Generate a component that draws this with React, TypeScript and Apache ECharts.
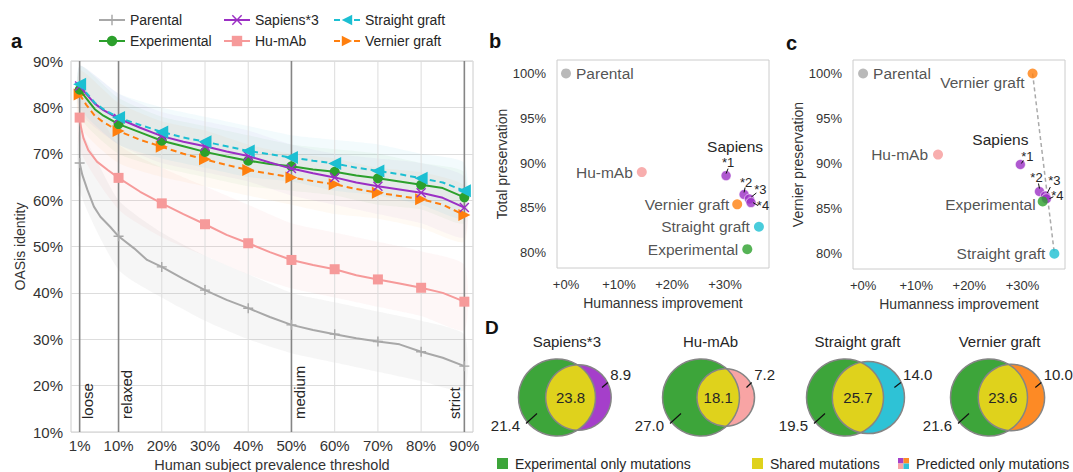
import React, { useEffect, useRef } from "react";
import * as echarts from "echarts";

const FONT = "'Liberation Sans', Arial, Helvetica, sans-serif";
const TEXT = "#262626";

// ---------------- Panel a data ----------------
const thresholds = [1, 10, 20, 30, 40, 50, 60, 70, 80, 90];
const majorThresholds = [1, 10, 50, 90];
const thresholdNames = ["loose", "relaxed", "medium", "strict"];

const parentalX = [1, 1.6, 2.8, 4.3, 5.8, 8.1, 10, 13.6, 16.6, 20, 25, 30, 35, 40, 45, 50, 55, 60, 65, 70, 75, 80, 85, 90];
const parentalY = [68.0, 65.5, 62.2, 58.6, 56.4, 54.2, 52.2, 49.6, 47.1, 45.6, 43.0, 40.6, 38.5, 36.7, 34.8, 33.1, 32.0, 31.1, 30.2, 29.5, 28.9, 27.3, 26.0, 24.2];
const humabX = [1, 1.3, 1.9, 3, 5, 7.5, 10, 15, 20, 25, 30, 35, 40, 45, 50, 55, 60, 65, 70, 75, 80, 85, 90];
const humabY = [77.8, 75.8, 73.3, 70.8, 68.3, 66.5, 64.8, 61.8, 59.3, 57.0, 54.8, 52.5, 50.7, 48.8, 47.1, 46.0, 45.1, 43.8, 42.9, 42.0, 41.1, 40.0, 38.1];
const clusterX = [1, 2.5, 4.5, 6.5, 10, 15, 20, 25, 30, 35, 40, 45, 50, 55, 60, 65, 70, 75, 80, 85, 90];
const straightY = [85.0, 83.2, 81.0, 79.6, 77.8, 76.2, 74.7, 73.5, 72.6, 71.6, 70.6, 69.9, 69.2, 68.5, 67.9, 67.0, 66.3, 65.6, 64.7, 63.8, 62.0];
const sapiensY = [84.6, 82.9, 80.8, 79.4, 77.6, 75.6, 73.8, 72.6, 71.6, 70.5, 69.5, 68.1, 66.8, 65.8, 64.9, 63.8, 63.0, 62.3, 61.6, 60.5, 58.4];
const experimentalY = [83.8, 82.0, 79.6, 78.2, 76.4, 74.6, 72.8, 71.6, 70.4, 69.4, 68.5, 67.8, 67.3, 66.6, 66.1, 65.3, 64.7, 64.0, 63.3, 62.6, 60.6];
const vernierY = [82.8, 80.6, 78.2, 76.8, 74.9, 73.0, 71.5, 70.0, 68.8, 67.6, 66.5, 65.7, 64.9, 64.1, 63.4, 62.4, 61.6, 60.9, 60.2, 59.0, 56.8];

// spread bands, read at the thresholds
const parentalLo = [62, 45, 39, 34, 30, 27, 25, 23, 21, 19];
const parentalHi = [75, 60, 53, 48, 44, 40, 38, 36, 34, 31];
const humabLo = [71, 58, 52, 48, 44, 41, 39, 37, 35, 32];
const humabHi = [85, 72, 67, 63, 59, 55, 53, 51, 49, 46];
const straightLo = [80, 72, 69, 67, 65, 64, 62, 61, 59, 56];
const straightHi = [89, 83, 80, 78, 76, 74, 73, 72, 70, 68];
const sapiensLo = [79, 72, 68, 66, 64, 61, 59, 57, 55, 52];
const sapiensHi = [89, 83, 79, 77, 75, 72, 70, 69, 68, 65];
const experimentalLo = [78, 70, 67, 65, 63, 62, 61, 59, 58, 55];
const experimentalHi = [89, 82, 78, 76, 74, 72, 71, 70, 68, 66];
const vernierLo = [76, 68, 65, 63, 61, 59, 57, 56, 54, 51];
const vernierHi = [88, 81, 77, 75, 72, 70, 69, 67, 66, 63];

// ---------------- Panels b & c data ----------------
const scatterNames = ["Parental", "Hu-mAb", "*1", "*2", "*3", "*4", "Vernier graft", "Straight graft", "Experimental"];
const humannessB = [0, 14.3, 30.2, 33.6, 34.6, 34.9, 32.3, 36.4, 34.2];
const totalPreservation = [100, 89.0, 88.6, 86.5, 86.0, 85.6, 85.4, 82.9, 80.4];
const humannessC = [0, 14.1, 29.6, 33.2, 34.3, 34.5, 31.9, 36.0, 33.8];
const vernierPreservation = [100, 91.0, 89.9, 86.9, 86.4, 86.1, 100, 80.0, 85.8];
const humannessTicks = [0, 10, 20, 30];
const preservationTicks = [80, 85, 90, 95, 100];

// ---------------- Panel D data ----------------
const vennTitles = ["Sapiens*3", "Hu-mAb", "Straight graft", "Vernier graft"];
const experimentalOnly = [21.4, 27.0, 19.5, 21.6];
const sharedMutations = [23.8, 18.1, 25.7, 23.6];
const predictedOnly = [8.9, 7.2, 14.0, 10.0];
const vennLegend = ["Experimental only mutations", "Shared mutations", "Predicted only mutations"];

// ---------------- styles ----------------
const C = {
  parental: "#a8a8a8",
  experimental: "#2ca02c",
  sapiens: "#9b2fc4",
  humab: "#f69a9a",
  straight: "#1cbfd2",
  vernier: "#ff7f0e",
};
const PLUS = "path://M4.3,0H5.7V4.3H10V5.7H5.7V10H4.3V5.7H0V4.3H4.3Z";
const CROSS = "path://M1,0L5,4L9,0L10,1L6,5L10,9L9,10L5,6L1,10L0,9L4,5L0,1Z";
const TRI_LEFT = "path://M0,5L10,0L10,10Z";
const TRI_RIGHT = "path://M10,5L0,0L0,10Z";

const lineDefs = [
  { name: "Parental", xs: parentalX, ys: parentalY, lo: parentalLo, hi: parentalHi, color: C.parental, band: "rgba(160,160,160,0.09)", symbol: PLUS, size: 10, dashed: false, z: 3 },
  { name: "Hu-mAb", xs: humabX, ys: humabY, lo: humabLo, hi: humabHi, color: C.humab, band: "rgba(246,140,140,0.07)", symbol: "rect", size: 10, dashed: false, z: 3 },
  { name: "Vernier graft", xs: clusterX, ys: vernierY, lo: vernierLo, hi: vernierHi, color: C.vernier, band: "rgba(255,150,40,0.05)", symbol: TRI_RIGHT, size: 12, dashed: true, z: 4 },
  { name: "Experimental", xs: clusterX, ys: experimentalY, lo: experimentalLo, hi: experimentalHi, color: C.experimental, band: "rgba(44,160,44,0.045)", symbol: "circle", size: 10, dashed: false, z: 5 },
  { name: "Sapiens*3", xs: clusterX, ys: sapiensY, lo: sapiensLo, hi: sapiensHi, color: C.sapiens, band: "rgba(150,60,200,0.045)", symbol: CROSS, size: 10, dashed: false, z: 6 },
  { name: "Straight graft", xs: clusterX, ys: straightY, lo: straightLo, hi: straightHi, color: C.straight, band: "rgba(28,191,210,0.055)", symbol: TRI_LEFT, size: 13, dashed: true, z: 7 },
];

const legendLayout = [
  { name: "Parental", left: 98, top: 13 },
  { name: "Sapiens*3", left: 223, top: 13 },
  { name: "Straight graft", left: 333, top: 13 },
  { name: "Experimental", left: 98, top: 34 },
  { name: "Hu-mAb", left: 223, top: 34 },
  { name: "Vernier graft", left: 333, top: 34 },
];

const pointColor = (n: string) =>
  n === "Parental" ? C.parental : n === "Hu-mAb" ? C.humab : n === "Vernier graft" ? C.vernier :
  n === "Straight graft" ? C.straight : n === "Experimental" ? C.experimental : C.sapiens;

const labelB: any = {
  "Parental": { position: "right", distance: 5 },
  "Hu-mAb": { position: "left", distance: 4 },
  "Vernier graft": { position: "left", distance: 3 },
  "Straight graft": { position: "left", distance: 4 },
  "Experimental": { position: "left", distance: 4 },
};
const labelC: any = {
  "Parental": { position: "right", distance: 5 },
  "Hu-mAb": { position: "left", distance: 5 },
  "Vernier graft": { position: "left", distance: 3, offset: [0, 9] },
  "Straight graft": { position: "left", distance: 4 },
  "Experimental": { position: "left", distance: 2, offset: [0, 3] },
};
// star label offsets relative to point: [textDx, textDy, lineX1, lineY1, lineX2, lineY2]
const starB: any = {
  "*1": [2, -13, 2, -7, 0, -2],
  "*2": [2, -12, 1, -7, 0, -2],
  "*3": [11, -9, 2, -2, 7, -6],
  "*4": [12, 3, 2, 0, 7, 3],
};
const starC: any = {
  "*1": [7, -8, 3, -4, 1, -1],
  "*2": [-3, -14, -1, -8, 0, -3],
  "*3": [9, -16, 2, -3, 5, -9],
  "*4": [11, -3, 3, 0, 7, -2],
};

const scatterSeries = (idx: number, xs: number[], ys: number[], labels: any) => ({
  type: "scatter",
  xAxisIndex: idx,
  yAxisIndex: idx,
  symbolSize: 10,
  z: 5,
  data: scatterNames.map((n, i) => ({
    name: n,
    value: [xs[i], ys[i]],
    itemStyle: n.startsWith("*")
      ? { color: C.sapiens, borderColor: "#fff", borderWidth: 0.7 }
      : { color: pointColor(n) },
    label: labels[n]
      ? { show: true, formatter: n, fontSize: 15.5, color: TEXT, fontFamily: FONT, ...labels[n] }
      : { show: false },
  })),
});

const axisLabelStyle = { color: "#333", fontFamily: FONT };

function buildOption(): any {
  const series: any[] = [];
  // bands
  lineDefs.forEach((d) => {
    series.push({
      type: "custom",
      xAxisIndex: 0,
      yAxisIndex: 0,
      silent: true,
      z: 1,
      data: [[thresholds[0], d.lo[0]]],
      renderItem: (_p: any, api: any) => {
        const top = thresholds.map((t, i) => api.coord([t, d.hi[i]]));
        const bottom = thresholds.map((t, i) => api.coord([t, d.lo[i]])).reverse();
        return { type: "polygon", shape: { points: top.concat(bottom), smooth: 0.2 }, style: { fill: d.band } };
      },
    });
  });
  // vertical threshold lines
  thresholds.forEach((t) => {
    const major = majorThresholds.includes(t);
    series.push({
      type: "line",
      xAxisIndex: 0,
      yAxisIndex: 0,
      silent: true,
      symbol: "none",
      z: 2,
      data: [[t, 10], [t, 90]],
      lineStyle: { color: major ? "#858585" : "#dcdcdc", width: major ? 1.6 : 1 },
    });
  });
  // main lines
  lineDefs.forEach((d) => {
    series.push({
      type: "line",
      name: d.name,
      xAxisIndex: 0,
      yAxisIndex: 0,
      z: d.z,
      data: d.xs.map((x, i) => [x, d.ys[i]]),
      symbol: d.symbol,
      symbolSize: (v: number[]) => (thresholds.includes(v[0]) ? d.size : 0),
      showAllSymbol: true,
      lineStyle: { color: d.color, width: 2, type: d.dashed ? [6, 4] : "solid" },
      itemStyle: { color: d.color },
    });
  });
  // panel c dashed connector Vernier graft -> Straight graft
  series.push({
    type: "line",
    xAxisIndex: 2,
    yAxisIndex: 2,
    silent: true,
    symbol: "none",
    z: 3,
    data: [6, 7].map((i) => [humannessC[i], vernierPreservation[i]]),
    lineStyle: { color: "#aaa", width: 1.5, type: [4, 3] },
  });
  series.push(scatterSeries(1, humannessB, totalPreservation, labelB));
  series.push(scatterSeries(2, humannessC, vernierPreservation, labelC));

  const scatterX = (gridIndex: number) => ({
    gridIndex,
    type: "value",
    min: gridIndex === 1 ? -1.7 : -1.9,
    max: gridIndex === 1 ? 38.3 : 38.0,
    axisLine: { show: false },
    axisTick: { show: false },
    splitLine: { show: false },
    axisLabel: { ...axisLabelStyle, fontSize: 13, margin: 10, customValues: humannessTicks, formatter: (v: number) => "+" + v + "%" },
    name: "Humanness improvement",
    nameLocation: "middle",
    nameGap: 28,
    nameTextStyle: { ...axisLabelStyle, fontSize: 14 },
  });
  const scatterY = (gridIndex: number, name: string) => ({
    gridIndex,
    type: "value",
    min: 78.3,
    max: 101.5,
    axisLine: { show: false },
    axisTick: { show: false },
    splitLine: { show: false },
    axisLabel: { ...axisLabelStyle, fontSize: 13, margin: 11, customValues: preservationTicks, formatter: (v: number) => v + "%" },
    name,
    nameLocation: "middle",
    nameGap: 45,
    nameTextStyle: { ...axisLabelStyle, fontSize: 14 },
  });

  const gridBase = { show: true, borderColor: "#cccccc", borderWidth: 1, backgroundColor: "transparent", containLabel: false, outerBoundsMode: "none" };

  return {
    animation: false,
    backgroundColor: "#fff",
    textStyle: { fontFamily: FONT },
    grid: [
      { ...gridBase, left: 71, top: 61, width: 402, height: 371 },
      { ...gridBase, left: 557, top: 60, width: 212, height: 208 },
      { ...gridBase, left: 853, top: 60, width: 212, height: 209 },
    ],
    xAxis: [
      {
        gridIndex: 0,
        type: "value",
        min: -1,
        max: 92,
        axisLine: { show: false },
        axisTick: { show: false },
        splitLine: { show: false },
        axisLabel: { ...axisLabelStyle, fontSize: 15, margin: 6, customValues: thresholds, formatter: (v: number) => v + "%" },
        name: "Human subject prevalence threshold",
        nameLocation: "middle",
        nameGap: 23,
        nameTextStyle: { ...axisLabelStyle, fontSize: 14.5 },
      },
      scatterX(1),
      scatterX(2),
    ],
    yAxis: [
      {
        gridIndex: 0,
        type: "value",
        min: 10,
        max: 90,
        interval: 10,
        axisLine: { show: false },
        axisTick: { show: false },
        splitLine: { show: true, lineStyle: { color: "#dddddd", width: 1 } },
        axisLabel: { ...axisLabelStyle, fontSize: 15, margin: 8, formatter: "{value}%" },
        name: "OASis identity",
        nameLocation: "middle",
        nameGap: 44,
        nameTextStyle: { ...axisLabelStyle, fontSize: 14 },
      },
      scatterY(1, "Total preservation"),
      scatterY(2, "Vernier preservation"),
    ],
    legend: legendLayout.map((l) => ({
      data: [l.name],
      left: l.left,
      top: l.top,
      padding: 0,
      itemGap: 0,
      itemWidth: 26,
      itemHeight: 13,
      selectedMode: false,
      textStyle: { fontSize: 14, color: TEXT, fontFamily: FONT },
    })),
    series,
  };
}

// ---------------- Venn geometry ----------------
function lensArea(r1: number, r2: number, d: number) {
  if (d >= r1 + r2) return 0;
  if (d <= Math.abs(r1 - r2)) return Math.PI * Math.min(r1, r2) ** 2;
  const a1 = Math.acos((d * d + r1 * r1 - r2 * r2) / (2 * d * r1));
  const a2 = Math.acos((d * d + r2 * r2 - r1 * r1) / (2 * d * r2));
  return r1 * r1 * a1 + r2 * r2 * a2 - 0.5 * Math.sqrt((-d + r1 + r2) * (d + r1 - r2) * (d - r1 + r2) * (d + r1 + r2));
}
function solveDistance(r1: number, r2: number, target: number) {
  let lo = Math.abs(r1 - r2) + 1e-6, hi = r1 + r2;
  for (let i = 0; i < 60; i++) {
    const m = (lo + hi) / 2;
    if (lensArea(r1, r2, m) > target) lo = m; else hi = m;
  }
  return (lo + hi) / 2;
}

const VENN_R = 38.5;
const VENN_CX0 = 557;
const VENN_STEP = 144;
const VENN_CY = 397.5;
const VENN_GREEN = "#3da53a";
const VENN_YELLOW = "#dfd21c";
const VENN_COLORS = ["#a53fca", "#f8a4a4", "#2ec2d6", "#fd8a25"];

function text(x: number, y: number, s: string, opts: any = {}) {
  const { size = 15, align = "center", vAlign = "middle", weight = "normal", rotation = 0, color = TEXT } = opts;
  return {
    type: "text",
    x,
    y,
    rotation,
    silent: true,
    z: 20,
    style: {
      text: s,
      fill: color,
      fontSize: size,
      fontWeight: weight,
      fontFamily: FONT,
      align,
      textAlign: align,
      verticalAlign: vAlign,
      textVerticalAlign: vAlign,
    },
  };
}
function seg(x1: number, y1: number, x2: number, y2: number, color = "#111", w = 1.2) {
  return { type: "line", silent: true, z: 20, shape: { x1, y1, x2, y2 }, style: { stroke: color, lineWidth: w } };
}

function buildGraphics(chart: any) {
  const g: any[] = [];
  // panel letters
  g.push(text(11, 41, "a", { size: 20, weight: "bold", align: "left", color: "#111" }));
  g.push(text(489, 41, "b", { size: 20, weight: "bold", align: "left", color: "#111" }));
  g.push(text(786, 43, "c", { size: 20, weight: "bold", align: "left", color: "#111" }));
  g.push(text(485, 327, "D", { size: 19, weight: "bold", align: "left", color: "#111" }));

  // threshold names
  majorThresholds.forEach((t, i) => {
    const p = chart.convertToPixel({ xAxisIndex: 0, yAxisIndex: 0 }, [t, 10]);
    const dx = t === 90 ? -10 : 8;
    g.push(text(p[0] + dx, p[1] - 13, thresholdNames[i], { size: 15, align: "left", rotation: Math.PI / 2 }));
  });

  // star labels and Sapiens headers
  const stars = (idx: number, xs: number[], ys: number[], spec: any, sapOff: number[]) => {
    scatterNames.forEach((n, i) => {
      if (!spec[n]) return;
      const p = chart.convertToPixel({ xAxisIndex: idx, yAxisIndex: idx }, [xs[i], ys[i]]);
      const s = spec[n];
      g.push(text(p[0] + s[0], p[1] + s[1], n, { size: 13 }));
      g.push(seg(p[0] + s[2], p[1] + s[3], p[0] + s[4], p[1] + s[5], "#111", 1));
      if (n === "*1") g.push(text(p[0] + sapOff[0], p[1] + sapOff[1], "Sapiens", { size: 15.5 }));
    });
  };
  stars(1, humannessB, totalPreservation, starB, [9, -29]);
  stars(2, humannessC, vernierPreservation, starC, [-20, -25]);

  // Venn diagrams
  const refTotal = experimentalOnly[0] + sharedMutations[0];
  const areaScale = (Math.PI * VENN_R * VENN_R) / refTotal;
  vennTitles.forEach((title, i) => {
    const r1 = Math.sqrt(((experimentalOnly[i] + sharedMutations[i]) * areaScale) / Math.PI);
    const r2 = Math.sqrt(((predictedOnly[i] + sharedMutations[i]) * areaScale) / Math.PI);
    const d = solveDistance(r1, r2, sharedMutations[i] * areaScale);
    const c1x = VENN_CX0 + i * VENN_STEP;
    const c2x = c1x + d;
    const cy = VENN_CY;
    const xi = (d * d + r1 * r1 - r2 * r2) / (2 * d);
    const h = Math.sqrt(Math.max(0, r1 * r1 - xi * xi));
    const t1 = Math.atan2(h, xi);
    const t2 = Math.atan2(h, d - xi);
    const pts: number[][] = [];
    const N = 48;
    for (let k = 0; k <= N; k++) {
      const a = -t1 + (2 * t1 * k) / N;
      pts.push([c1x + r1 * Math.cos(a), cy + r1 * Math.sin(a)]);
    }
    for (let k = 0; k <= N; k++) {
      const a = Math.PI - t2 + (2 * t2 * k) / N;
      pts.push([c2x + r2 * Math.cos(a), cy + r2 * Math.sin(a)]);
    }
    g.push({ type: "circle", silent: true, z: 10, shape: { cx: c1x, cy, r: r1 }, style: { fill: VENN_GREEN } });
    g.push({ type: "circle", silent: true, z: 10, shape: { cx: c2x, cy, r: r2 }, style: { fill: VENN_COLORS[i] } });
    g.push({ type: "polygon", silent: true, z: 11, shape: { points: pts }, style: { fill: VENN_YELLOW } });
    g.push({ type: "circle", silent: true, z: 12, shape: { cx: c1x, cy, r: r1 }, style: { fill: "none", stroke: "#858585", lineWidth: 1.5 } });
    g.push({ type: "circle", silent: true, z: 12, shape: { cx: c2x, cy, r: r2 }, style: { fill: "none", stroke: "#858585", lineWidth: 1.5 } });
    const lensMid = ((c2x - r2) + (c1x + r1)) / 2;
    g.push(text(lensMid, cy, sharedMutations[i].toFixed(1), { size: 15 }));
    g.push(text(c1x - 37, cy + 28, experimentalOnly[i].toFixed(1), { size: 15, align: "right" }));
    g.push(seg(c1x - 31, cy + 26, c1x - 20, cy + 16));
    g.push(text(c2x + r2 * 0.85 + 4, cy - 23, predictedOnly[i].toFixed(1), { size: 15, align: "left" }));
    g.push(seg(c2x + r2 * 0.72, cy - 10, c2x + r2 * 0.9, cy - 15));
    const mid = ((c1x - r1) + (c2x + r2)) / 2;
    g.push(text(mid + 2, 341, title, { size: 15 }));
  });

  // Venn legend
  const legY = 463;
  const legX = [497, 752, 898];
  g.push({ type: "rect", silent: true, shape: { x: legX[0], y: legY - 5, width: 11, height: 11 }, style: { fill: VENN_GREEN } });
  g.push({ type: "rect", silent: true, shape: { x: legX[1], y: legY - 5, width: 11, height: 11 }, style: { fill: VENN_YELLOW } });
  const quad = [VENN_COLORS[0], VENN_COLORS[3], VENN_COLORS[1], VENN_COLORS[2]];
  quad.forEach((c, k) => {
    g.push({ type: "rect", silent: true, shape: { x: legX[2] + (k % 2) * 5.5, y: legY - 5 + Math.floor(k / 2) * 5.5, width: 5.5, height: 5.5 }, style: { fill: c } });
  });
  vennLegend.forEach((s, k) => g.push(text(legX[k] + 18, legY + 0.5, s, { size: 14, align: "left" })));
  return g;
}

export default function App() {
  const ref = useRef<HTMLDivElement>(null);
  useEffect(() => {
    if (!ref.current) return;
    const chart = echarts.init(ref.current, null, { renderer: "svg", width: 1073, height: 472 });
    chart.setOption(buildOption());
    chart.setOption({ graphic: buildGraphics(chart) });
    return () => chart.dispose();
  }, []);
  return <div ref={ref} style={{ position: "absolute", left: 0, top: 0, width: 1073, height: 472, background: "#fff" }} />;
}
